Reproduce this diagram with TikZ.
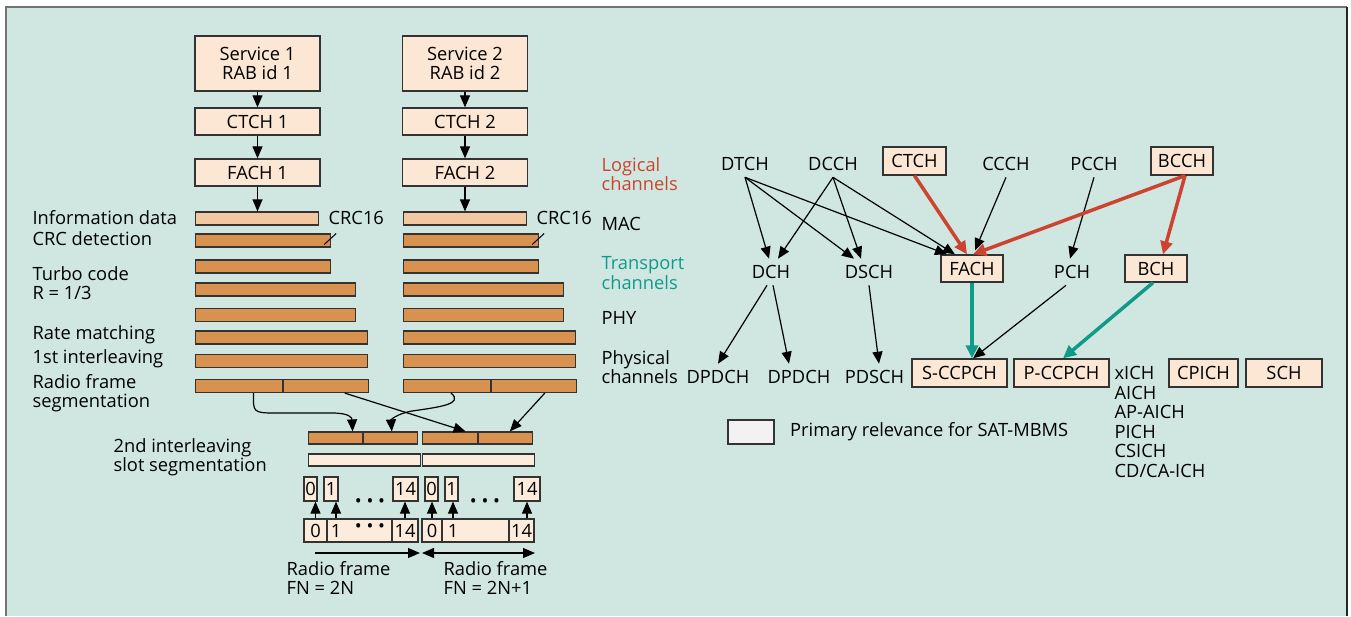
\documentclass[tikz,border=0pt]{standalone}
\usepackage{fontspec}
\setmainfont{Open Sans}
\usetikzlibrary{arrows.meta,positioning}

\definecolor{bgcol}{RGB}{207,231,224}
\definecolor{peach}{RGB}{252,230,212}
\definecolor{barcol}{RGB}{217,145,80}
\definecolor{infocol}{RGB}{242,200,160}
\definecolor{slotcol}{RGB}{253,236,220}
\definecolor{legcol}{RGB}{242,242,242}
\definecolor{redc}{RGB}{204,68,48}
\definecolor{tealc}{RGB}{16,155,137}

\begin{document}
\begin{tikzpicture}[
      x=1pt, y=-1pt,
      >={Triangle[length=12pt,width=10pt]},
      line width=1.2pt,
      font=\fontsize{18.3}{19.5}\selectfont,
      box/.style={draw=black!80, fill=peach, line width=1.3pt, inner sep=0pt, minimum height=27pt, align=center},
      bar/.style={draw=black!80, fill=barcol, inner sep=0pt, minimum height=13pt, anchor=west},
      infobar/.style={bar, fill=infocol},
      segbar/.style={bar, fill=slotcol},
      cell/.style={draw=black!80, fill=slotcol, inner sep=0pt, minimum height=24pt},
      lbl/.style={anchor=west, inner sep=0pt, align=left},
      chan/.style={inner xsep=1pt, inner ysep=6pt},
      chbox/.style={box, minimum height=28pt},
      redarrow/.style={draw=redc, line width=3.5pt, -{Triangle[length=13pt,width=12pt]}},
      tealarrow/.style={draw=tealc, line width=3.5pt, -{Triangle[length=13pt,width=12pt]}}
    ]
    \useasboundingbox (0,0) rectangle (1351,616);
    \fill[bgcol] (6,7) rectangle (1347,616);
    \draw[black!55, line width=2pt] (6,616) -- (6,7) -- (1347,7);
    \draw[black!85] (1347,7) -- (1347,616);

    % services and their channels
    \foreach \c/\x in {1/257.5, 2/465} {
      \node[box, minimum width=125pt, minimum height=55pt] (svc\c) at (\x,63.5) {Service \c\\RAB id \c};
      \node[box, minimum width=125pt] (ctch\c) at (\x,121.5) {CTCH \c};
      \node[box, minimum width=125pt] (fach\c) at (\x,172.5) {FACH \c};
    }

    % coding chain bars
    \foreach \c/\x in {1/195, 2/403} {
      \node[infobar, minimum width=123pt] (info\c) at (\x,218.5) {};
      \node[bar, minimum width=135pt] (crc\c) at (\x,240.5) {};
      \node[bar, minimum width=135pt] (tc\c) at (\x,266.5) {};
      \node[bar, minimum width=160pt] (tca\c) at (\x,289.5) {};
      \node[bar, minimum width=160pt] (tcb\c) at (\x,315) {};
      \node[bar, minimum width=172pt] (rm\c) at (\x,337.5) {};
      \node[bar, minimum width=172pt] (il\c) at (\x,361) {};
      \node[bar, minimum width=87pt] (rfs\c a) at (\x,386) {};
      \node[bar, minimum width=85pt] (rfs\c b) at (rfs\c a.east) {};
      \node[lbl] (crclbl\c) at (\x+133,218) {CRC16};
      \draw[line width=1pt] ([xshift=-7pt,yshift=-4pt]crc\c.east) -- ++(12,-11);
    }
    \foreach \c in {1,2} {
      \draw[->] (svc\c) -- (ctch\c);
      \draw[->] (ctch\c) -- (fach\c);
      \draw[->] (fach\c) -- (fach\c.south |- info\c.north);
    }

    \node[lbl] at (32,218) {Information data};
    \node[lbl] at (32,239) {CRC detection};
    \node[lbl] at (32,283) {Turbo code\\R = 1/3};
    \node[lbl] at (32,335) {Rate matching};
    \node[lbl] at (32,359) {1st interleaving};
    \node[lbl] at (32,393) {Radio frame\\segmentation};
    \node[lbl] at (113,457) {2nd interleaving\\slot segmentation};

    % 2nd interleaving and slots
    \node[bar, minimum width=54pt, minimum height=12pt] (il2a1) at (308,438) {};
    \node[bar, minimum width=54pt, minimum height=12pt] (il2a2) at (il2a1.east) {};
    \node[bar, minimum width=55pt, minimum height=12pt] (il2b1) at (422,438) {};
    \node[bar, minimum width=54pt, minimum height=12pt] (il2b2) at (il2b1.east) {};
    \node[segbar, minimum width=112pt, minimum height=12pt] (seg1) at (308,460) {};
    \node[segbar, minimum width=112pt, minimum height=12pt] (seg2) at (422,460) {};

    \draw[->] ([xshift=14.5pt]rfs1a.south) .. controls (253,412) and (253,413) .. (275,413) -- (332,413) .. controls (350,413) and (352,418) .. ([xshift=17pt]il2a1.north);
    \draw[->] ([xshift=4pt]rfs2a.south) .. controls (464,404) and (440,407) .. (412,411) .. controls (396,414) and (391,420) .. ([xshift=1pt]il2a2.north);
    \draw[->] ([xshift=18.5pt]rfs1b.south) -- ([xshift=15.5pt]il2b1.north);
    \draw[->] ([xshift=10.5pt]rfs2b.south) -- ([xshift=4pt]il2b2.north);

    \node[cell, minimum width=13pt] (s0a) at (310.5,489) {0};
    \node[cell, minimum width=14pt] (s1a) at (331,489) {1};
    \node[cell, minimum width=25pt] (s14a) at (405.5,489) {14};
    \node[cell, minimum width=13pt] (s0b) at (431.5,489) {0};
    \node[cell, minimum width=13pt] (s1b) at (451.5,489) {1};
    \node[cell, minimum width=26pt] (s14b) at (527,489) {14};
    \node at (370,503) {• • •};
    \node at (485,503) {• • •};

    \node[cell, minimum width=23pt, minimum height=23pt] (c0a) at (315.5,530.5) {0};
    \node[cell, minimum width=65pt, minimum height=23pt] (c1a) at (359.5,530.5) {};
    \node[cell, minimum width=26pt, minimum height=23pt] (c14a) at (405,530.5) {14};
    \node[cell, minimum width=20pt, minimum height=23pt] (c0b) at (432,530.5) {0};
    \node[cell, minimum width=67pt, minimum height=23pt] (c1b) at (475.5,530.5) {};
    \node[cell, minimum width=25pt, minimum height=23pt] (c14b) at (521.5,530.5) {14};
    \node (n1a) at (336,531) {1};
    \node at (370,528) {• • •};
    \node (n1b) at (453,531) {1};

    \draw[->] (c0a.north) -- (c0a.north |- s0a.south);
    \draw[->] (n1a |- c1a.north) -- (n1a |- s1a.south);
    \draw[->] (c14a.north) -- (c14a.north |- s14a.south);
    \draw[->] (c0b.north) -- (c0b.north |- s0b.south);
    \draw[->] (n1b |- c1b.north) -- (n1b |- s1b.south);
    \draw[->] (s14b.south |- c14b.north) -- (s14b.south);

    \coordinate (fra) at (315,553);
    \coordinate (frb) at (420,553);
    \coordinate (frc) at (422,553);
    \coordinate (frd) at (535,553);
    \draw[->] (fra) -- (frb);
    \draw[<->] (frc) -- (frd);
    \node[lbl] at (286,578) {Radio frame\\FN = 2N};
    \node[lbl] at (443,578) {Radio frame\\FN = 2N+1};

    % layer labels
    \node[lbl, text=redc] at (601,174) {Logical\\channels};
    \node[lbl] at (601,224) {MAC};
    \node[lbl, text=tealc] at (601,273) {Transport\\channels};
    \node[lbl] at (601,318) {PHY};
    \node[lbl] at (601,367) {Physical\\channels};

    % logical channels
    \node[chan] (dtch) at (745,164) {DTCH};
    \node[chan] (dcch) at (833,164) {DCCH};
    \node[chbox, minimum width=63pt] (ctch) at (914.5,161) {CTCH};
    \node[chan] (ccch) at (1006,164) {CCCH};
    \node[chan] (pcch) at (1094,164) {PCCH};
    \node[chbox, minimum width=62pt] (bcch) at (1182,161) {BCCH};

    % transport channels
    \node[chan] (dch) at (771,272) {DCH};
    \node[chan] (dsch) at (869,272) {DSCH};
    \node[chbox, minimum width=62pt, minimum height=27pt] (fach) at (972,268.5) {FACH};
    \node[chan] (pch) at (1072,272) {PCH};
    \node[chbox, minimum width=62pt, minimum height=27pt] (bch) at (1156,268.5) {BCH};

    % physical channels
    \node[chan] (dpdcha) at (718,377) {DPDCH};
    \node[chan] (dpdchb) at (799,377) {DPDCH};
    \node[chan] (pdsch) at (874.5,377) {PDSCH};
    \node[chbox, minimum width=95pt] (sccpch) at (959.5,373) {S-CCPCH};
    \node[chbox, minimum width=95pt] (pccpch) at (1061.5,373) {P-CCPCH};
    \node[lbl, anchor=north west] (xich) at (1114,366) {xICH\\AICH\\AP-AICH\\PICH\\CSICH\\CD/CA-ICH};
    \node[chbox, minimum width=69pt] (cpich) at (1203.5,373) {CPICH};
    \node[chbox, minimum width=76pt] (sch) at (1284,373) {SCH};

    \draw[->] (dtch.south) -- ([xshift=-2pt]dch.north);
    \draw[->] (dtch.south) -- ([xshift=-15pt]dsch.north);
    \draw[->] (dtch.south) -- ([xshift=-25pt]fach.north);
    \draw[->] (dcch.south) -- ([xshift=7pt]dch.north);
    \draw[->] (dcch.south) -- ([xshift=-8pt]dsch.north);
    \draw[->] (dcch.south) -- ([xshift=-17pt]fach.north);
    \draw[->] (ccch.south) -- ([xshift=3pt,yshift=4pt]fach.north);
    \draw[->] (pcch.south) -- ([xshift=-2pt]pch.north);
    \draw[->] ([xshift=-6pt]pch.south) -- ([xshift=13.5pt]sccpch.north);
    \draw[->] ([xshift=-4pt]dch.south) -- (dpdcha.north);
    \draw[->] ([xshift=2pt]dch.south) -- ([xshift=-10pt]dpdchb.north);
    \draw[->] (dsch.south) -- ([xshift=4.5pt]pdsch.north);
    \draw[redarrow] (ctch.south) -- ([xshift=-5pt]fach.north);
    \draw[redarrow] ([xshift=3pt]bcch.south) -- ([xshift=1pt]fach.north);
    \draw[redarrow] ([xshift=3pt]bcch.south) -- ([xshift=7pt]bch.north);
    \draw[tealarrow] (fach.south) -- (fach.south |- sccpch.north);
    \draw[tealarrow] ([xshift=-3pt]bch.south) -- ([xshift=1.5pt]pccpch.north);

    % legend
    \node[draw=black!80, fill=legcol, minimum width=46pt, minimum height=24pt, inner sep=0pt] (legbox) at (751,432) {};
    \node[lbl, right=15pt of legbox] (legtxt) {Primary relevance for SAT-MBMS};
  \end{tikzpicture}
\end{document}
